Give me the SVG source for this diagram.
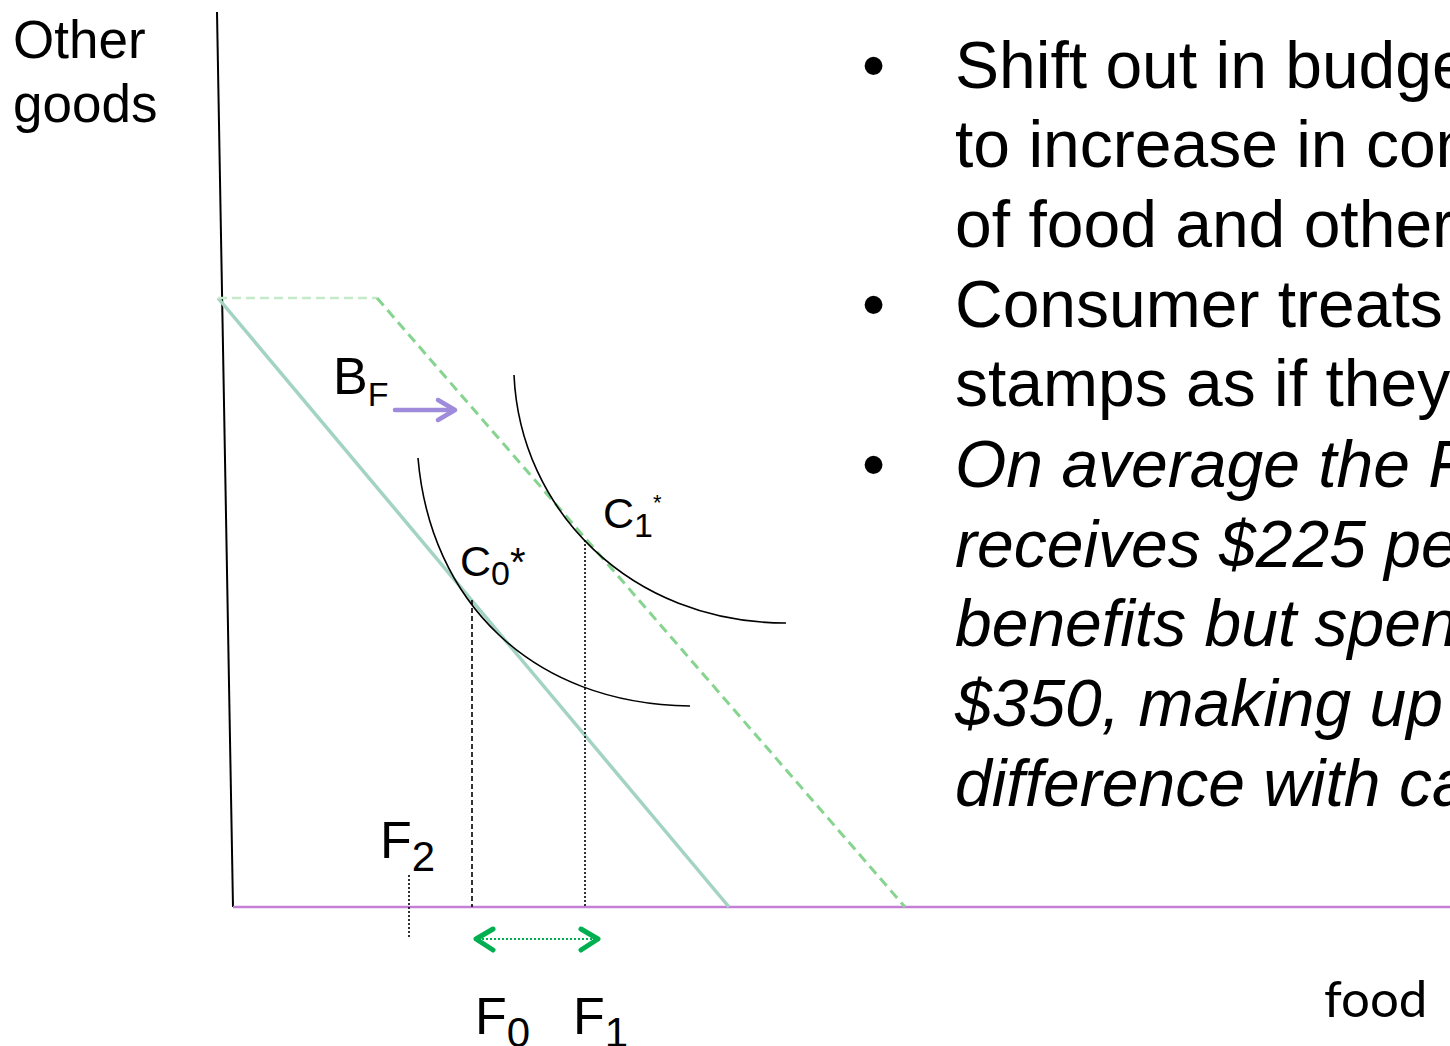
<svg xmlns="http://www.w3.org/2000/svg" width="1450" height="1046" viewBox="0 0 1450 1046">
<style>
.t{font-family:"Liberation Sans",Arial,sans-serif;fill:#000}
.b{font-family:"Liberation Sans",Arial,sans-serif;font-size:66px;fill:#000}
.i{font-style:italic}
.ic{fill:none;stroke:#000;stroke-width:1.6}
</style>
<rect width="1450" height="1046" fill="#fff"/>
<g id="connectors">
  <line id="y-axis" x1="217" y1="12" x2="233" y2="907" stroke="#000" stroke-width="2"/>
  <line id="x-axis" x1="233" y1="907" x2="1450" y2="907" stroke="#c47fd6" stroke-width="2.5"/>
  <line id="budget0" x1="218" y1="298" x2="729" y2="907" stroke="#a3d3c1" stroke-width="3.5"/>
  <line id="budget1-top" x1="218" y1="298" x2="377" y2="298" stroke="#c6eac9" stroke-width="2.5" stroke-dasharray="9,5"/>
  <line id="budget1" x1="377" y1="298" x2="905" y2="907" stroke="#86d48f" stroke-width="3" stroke-dasharray="10,6"/>
  <path id="ic0" class="ic" d="M418,458 C430,600 530,704 690,706"/>
  <path id="ic1" class="ic" d="M514,375 C520,510 630,623 786,623"/>
  <line x1="472" y1="600" x2="472" y2="907" stroke="#000" stroke-width="1.6" stroke-dasharray="5,3"/>
  <line x1="585" y1="540" x2="585" y2="907" stroke="#000" stroke-width="1.6" stroke-dasharray="2,2"/>
  <line x1="409" y1="875" x2="409" y2="937" stroke="#000" stroke-width="1.6" stroke-dasharray="2,2"/>
  <g id="shift-arrow" stroke="#9f8bdb" stroke-width="4.5" stroke-linecap="round" stroke-linejoin="round" fill="none">
    <line x1="395" y1="410" x2="454" y2="410"/>
    <polyline points="438,400 455,410 438,420"/>
  </g>
  <g id="delta-arrow" stroke="#00b050" fill="none" stroke-linecap="round" stroke-linejoin="round">
    <line x1="478" y1="939" x2="596" y2="939" stroke-width="2" stroke-dasharray="2,2" stroke-linecap="butt"/>
    <polyline points="493,929 476,939 493,950" stroke-width="5"/>
    <polyline points="581,929 598,939 581,950" stroke-width="5"/>
  </g>
</g>
<g id="label-other-goods"><text class="t" font-size="53"><tspan x="13" y="58">Other</tspan><tspan x="13" y="122">goods</tspan></text></g>
<g id="label-food"><text x="1324" y="1017" font-family="Lato,'Open Sans',sans-serif" font-size="51" fill="#000">food</text></g>
<g id="label-BF"><text class="t" x="333" y="394" font-size="52">B<tspan font-size="34" dy="12">F</tspan></text></g>
<g id="label-C0"><text class="t" x="460" y="576" font-size="43">C<tspan font-size="34" dy="9">0</tspan><tspan font-size="40" dy="-9">*</tspan></text></g>
<g id="label-C1"><text class="t" x="603" y="528" font-size="43">C<tspan font-size="34" dy="9">1</tspan><tspan font-size="22" dy="-27">*</tspan></text></g>
<g id="label-F2"><text class="t" x="380" y="858" font-size="52">F<tspan font-size="42" dy="13">2</tspan></text></g>
<g id="label-F0"><text class="t" x="475" y="1034" font-size="52">F<tspan font-size="42" dy="13">0</tspan></text></g>
<g id="label-F1"><text class="t" x="573" y="1034" font-size="52">F<tspan font-size="42" dy="13">1</tspan></text></g>
<g id="bullets">
  <text class="b" x="862" y="88">•</text>
  <text class="b" x="862" y="327">•</text>
  <text class="b" x="862" y="487">•</text>
  <text class="b"><tspan x="955" y="88">Shift out in budge</tspan><tspan x="955" y="167">to increase in con</tspan><tspan x="955" y="247">of food and other</tspan><tspan x="955" y="327">Consumer treats</tspan><tspan x="955" y="406">stamps as if they</tspan></text>
  <text class="b i"><tspan x="955" y="487">On average the F</tspan><tspan x="955" y="567">receives $225 per</tspan><tspan x="955" y="646">benefits but spen</tspan><tspan x="955" y="726">$350, making up</tspan><tspan x="955" y="806">difference with ca</tspan></text>
</g>
</svg>
